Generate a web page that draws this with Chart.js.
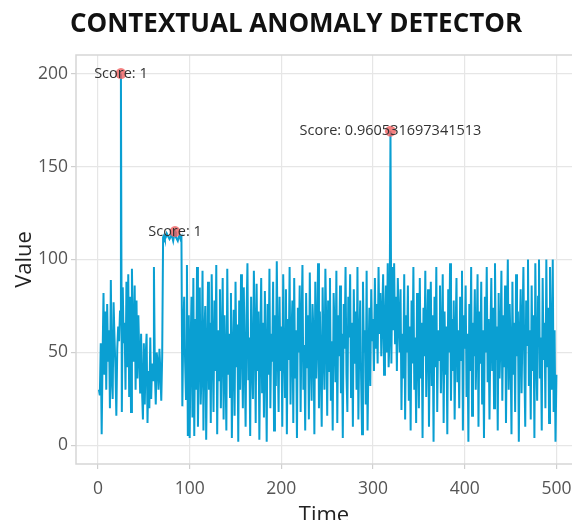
<!DOCTYPE html>
<html>
<head>
<meta charset="utf-8">
<title>Contextual anomaly detector</title>
<script src="https://cdn.jsdelivr.net/npm/chart.js@4/dist/chart.umd.min.js"></script>
<style>
  html, body { margin: 0; padding: 0; background: #ffffff; overflow: hidden; }
  #canvas { display: block; }
</style>
</head>
<body>
<canvas id="canvas" width="572" height="520"></canvas>
<script>
"use strict"
// valori, t = 1..500
let values = [
  30, 27, 55, 6, 48, 82, 38, 72, 30, 76,
  45, 62, 20, 89, 36, 25, 77, 58, 42, 16,
  52, 64, 56, 72, 200, 18, 85, 55, 66, 30,
  88, 42, 92, 26, 80, 18, 95, 62, 45, 86,
  30, 78, 36, 70, 50, 28, 60, 30, 14, 55,
  22, 48, 60, 12, 40, 20, 58, 25, 44, 35,
  96, 40, 22, 50, 45, 30, 52, 40, 24, 48,
  112, 113, 111, 112, 114, 113, 112, 111, 112, 113,
  112, 110, 113, 115, 112, 111, 110, 112, 113, 111,
  112, 21, 62, 80, 45, 25, 97, 5, 70, 4,
  55, 80, 15, 90, 5, 68, 30, 96, 10, 50,
  85, 22, 40, 94, 8, 60, 75, 3, 48, 88,
  30, 66, 12, 92, 52, 18, 78, 40, 97, 6,
  62, 35, 84, 20, 55, 90, 14, 70, 44, 8,
  95, 38, 60, 26, 82, 4, 50, 73, 16, 88,
  42, 65, 2, 78, 30, 92, 55, 20, 85, 48,
  10, 70, 98, 35, 58, 5, 80, 45, 25, 94,
  62, 12, 87, 40, 72, 3, 55, 90, 28, 66,
  15, 83, 50, 2, 76, 38, 95, 20, 60, 45,
  88, 8, 70, 32, 99, 52, 18, 80, 40, 64,
  10, 92, 56, 26, 84, 6, 68, 46, 96, 22,
  58, 78, 12, 90, 36, 62, 4, 74, 50, 86,
  18, 66, 97, 30, 54, 8, 82, 42, 70, 14,
  93, 48, 24, 76, 60, 6, 88, 36, 58, 98,
  20, 72, 44, 10, 85, 52, 30, 95, 64, 16,
  78, 40, 90, 24, 56, 8, 82, 62, 34, 94,
  12, 70, 48, 86, 28, 60, 4, 76, 52, 96,
  38, 18, 80, 58, 92, 26, 66, 10, 84, 44,
  72, 30, 96, 14, 56, 78, 36, 6, 88, 50,
  62, 22, 94, 8, 46, 74, 32, 84, 56, 68,
  40, 90, 52, 76, 44, 96, 60, 82, 48, 70,
  92, 38, 64, 86, 50, 98, 42, 58, 169, 44,
  96, 62, 98, 55, 80, 40, 90, 68, 50, 84,
  19, 60, 36, 92, 14, 70, 50, 86, 24, 64,
  8, 78, 44, 96, 30, 58, 12, 82, 52, 20,
  90, 36, 66, 4, 74, 48, 94, 26, 60, 84,
  10, 54, 88, 32, 70, 2, 80, 42, 96, 18,
  62, 46, 86, 28, 56, 92, 12, 72, 38, 64,
  6, 84, 50, 98, 24, 68, 40, 78, 14, 58,
  90, 34, 62, 20, 80, 46, 94, 8, 70, 52,
  86, 26, 60, 2, 76, 40, 96, 16, 66, 48,
  84, 30, 56, 92, 10, 72, 44, 88, 22, 62,
  4, 80, 50, 96, 34, 68, 14, 58, 90, 40,
  74, 20, 98, 46, 64, 8, 82, 36, 56, 94,
  24, 70, 42, 86, 12, 60, 100, 30, 76, 52,
  6, 88, 38, 66, 18, 92, 48, 72, 2, 58,
  84, 28, 64, 96, 44, 10, 78, 54, 100, 32,
  62, 14, 86, 40, 70, 4, 98, 50, 24, 80,
  100, 36, 58, 8, 90, 46, 66, 20, 100, 42,
  74, 12, 96, 54, 30, 100, 18, 62, 2, 38
];
let times = values.map((v, i) => i + 1);

// anomalie trovate
let anomalyTimes = [25, 84, 319];
let anomalyScores = ["1", "1", "0.960531697341513"];

let xTickValues = [0, 100, 200, 300, 400, 500];
let yTickValues = [0, 50, 100, 150, 200];

let lineData = times.map((t, i) => ({x: t, y: values[i]}));
let anomalyData = anomalyTimes.map(t => ({x: t, y: values[t - 1]}));

let FONT = "'Open Sans', 'Noto Sans', sans-serif";

// bordo del pannello
let panelBorder = {
    id: "panelBorder",
    beforeDatasetsDraw(chart) {
        let a = chart.chartArea, ctx = chart.ctx;
        ctx.save();
        ctx.strokeStyle = "#d6d6d6";
        ctx.lineWidth = 1.5;
        ctx.strokeRect(a.left, a.top, 600 - a.left, a.bottom - a.top);
        ctx.restore();
    }
};

// testo "Score: ..." sopra ogni anomalia
let scoreLabels = {
    id: "scoreLabels",
    afterDatasetsDraw(chart) {
        let ctx = chart.ctx, sx = chart.scales.x, sy = chart.scales.y;
        ctx.save();
        ctx.font = "14.5px " + FONT;
        ctx.fillStyle = "#333333";
        ctx.textAlign = "center";
        ctx.textBaseline = "middle";
        anomalyData.forEach((p, i) => {
            ctx.fillText("Score: " + anomalyScores[i], sx.getPixelForValue(p.x), sy.getPixelForValue(p.y));
        });
        ctx.restore();
    }
};

// titolo
let bigTitle = {
    id: "bigTitle",
    afterDraw(chart) {
        let ctx = chart.ctx;
        ctx.save();
        ctx.font = "bold 26px " + FONT;
        ctx.fillStyle = "#111111";
        ctx.textAlign = "center";
        ctx.textBaseline = "middle";
        ctx.fillText("CONTEXTUAL ANOMALY DETECTOR", 296, 25);
        ctx.restore();
    }
};

let chartOptions = {
    type: "line",
    data: {
        datasets: [{
            label: "anomalies",
            data: anomalyData,
            showLine: false,
            pointRadius: 5.5,
            pointHoverRadius: 5.5,
            pointBackgroundColor: "rgba(240, 96, 96, 0.8)",
            pointBorderWidth: 0,
            order: 0
        }, {
            label: "value",
            data: lineData,
            borderColor: "#0a9fd2",
            borderWidth: 2,
            pointRadius: 0,
            tension: 0,
            fill: false,
            order: 1
        }]
    },
    options: {
        responsive: false,
        animation: false,
        devicePixelRatio: 1,
        layout: { autoPadding: false, padding: { top: 55, left: 0, right: 0, bottom: 0 } },
        plugins: {
            legend: { display: false },
            tooltip: { enabled: false },
            title: { display: false }
        },
        scales: {
            x: {
                type: "linear",
                min: -24,
                max: 517,
                afterBuildTicks: s => { s.ticks = xTickValues.map(v => ({value: v})); },
                afterFit: s => { s.height = 56; s.paddingLeft = 0; s.paddingRight = 0; },
                grid: { color: "#e6e6e6", lineWidth: 1.2, tickLength: 5, tickColor: "#cfcfcf" },
                border: { display: false },
                ticks: { color: "#555555", font: { family: FONT, size: 17.5 }, padding: 10, maxRotation: 0 },
                title: { display: true, text: "Time", color: "#222222",
                         font: { family: FONT, size: 22, lineHeight: 1 }, padding: { top: 0, bottom: -7 } }
            },
            y: {
                min: -10,
                max: 210,
                afterBuildTicks: s => { s.ticks = yTickValues.map(v => ({value: v})); },
                afterFit: s => { s.width = 76; s.paddingTop = 0; s.paddingBottom = 0; },
                grid: { color: "#e6e6e6", lineWidth: 1.2, tickLength: 5, tickColor: "#cfcfcf" },
                border: { display: false },
                ticks: { color: "#555555", font: { family: FONT, size: 17.5 }, padding: 3 },
                title: { display: true, text: "Value", color: "#222222",
                         font: { family: FONT, size: 22, lineHeight: 1.2 }, padding: { top: 12, bottom: 0 } }
            }
        }
    },
    plugins: [panelBorder, scoreLabels, bigTitle]
};

let canvas = document.getElementById("canvas");
let chart = new Chart(canvas, chartOptions);
</script>
</body>
</html>
